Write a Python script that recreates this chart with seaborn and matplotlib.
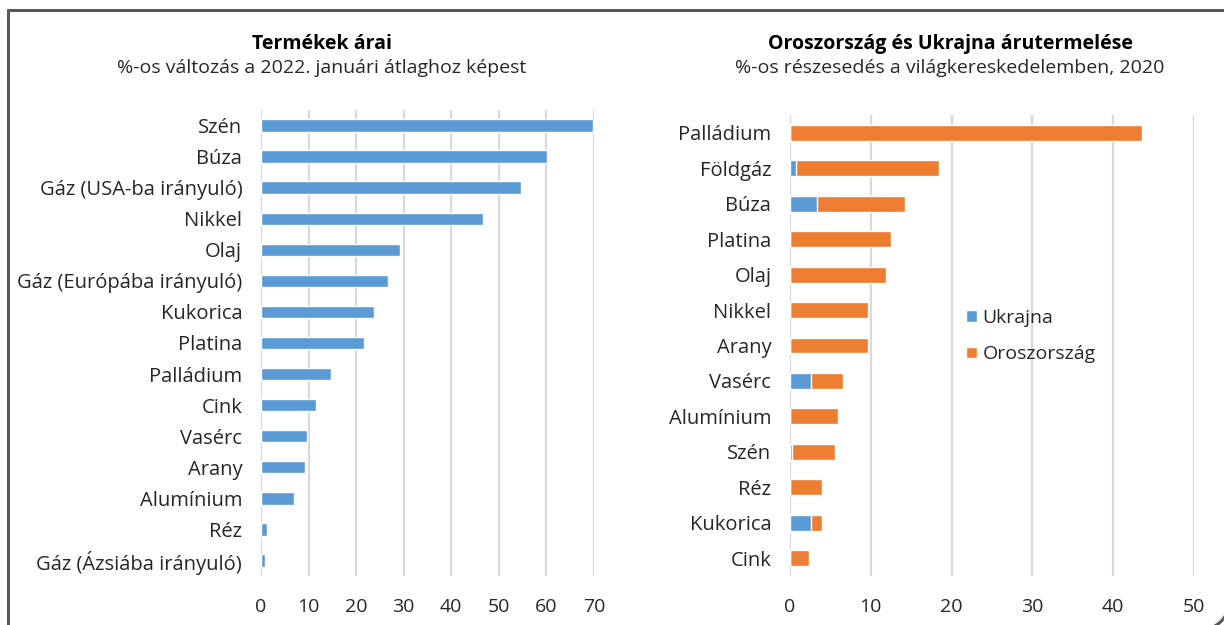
import numpy as np
import pandas as pd
import matplotlib
matplotlib.use("Agg")
import matplotlib.pyplot as plt
from matplotlib.patches import Patch, Arc
from matplotlib.lines import Line2D
from matplotlib.transforms import IdentityTransform
import seaborn as sns

# left panel: price change vs Jan 2022 average
products = ["Szén", "Búza", "Gáz (USA-ba irányuló)", "Nikkel", "Olaj",
            "Gáz (Európába irányuló)", "Kukorica", "Platina", "Palládium",
            "Cink", "Vasérc", "Arany", "Alumínium", "Réz", "Gáz (Ázsiába irányuló)"]
price_change = [69.8, 60.1, 54.6, 46.7, 29.3, 26.6, 23.7, 21.6, 14.8,
                11.5, 9.7, 9.2, 7.0, 1.3, 0.8]

# right panel: share of world trade, 2020
goods = ["Palládium", "Földgáz", "Búza", "Platina", "Olaj", "Nikkel", "Arany",
         "Vasérc", "Alumínium", "Szén", "Réz", "Kukorica", "Cink"]
ukraine = [0.0, 0.7, 3.3, 0.0, 0.0, 0.0, 0.0, 2.6, 0.0, 0.3, 0.0, 2.6, 0.0]
russia = [43.6, 17.8, 10.9, 12.5, 11.9, 9.6, 9.6, 4.0, 5.9, 5.3, 4.0, 1.4, 2.3]

left_ticks = [0, 10, 20, 30, 40, 50, 60, 70]
right_ticks = [0, 10, 20, 30, 40, 50]

blue = "#5B9BD5"
orange = "#ED7D31"
grid_c = "#D9D9D9"
txt_c = "#262626"
fs = 14

sns.set_theme(style="white")
plt.rcParams['font.family'] = ['Open Sans', 'DejaVu Sans']

W, H = 1224, 625
fig = plt.figure(figsize=(W / 100, H / 100), dpi=100)

def px_axes(x0, y0, x1, y1):
    return fig.add_axes([x0 / W, 1 - y1 / H, (x1 - x0) / W, (y1 - y0) / H])

ax1 = px_axes(261, 110, 594, 576)
ax2 = px_axes(790, 115, 1194, 576)

df1 = pd.DataFrame({"termek": products, "valtozas": price_change})
sns.barplot(data=df1, y="termek", x="valtozas", orient="h", color=blue,
            saturation=1, width=0.4, ax=ax1)
ax1.set_xlim(0, 70)
ax1.set_ylim(len(products) - 0.5, -0.5)

df2 = pd.DataFrame({"aru": goods, "ukr": ukraine, "rus": russia})
df2["ossz"] = df2["ukr"] + df2["rus"]
sns.barplot(data=df2, y="aru", x="ossz", orient="h", color=orange,
            saturation=1, width=0.45, ax=ax2)
sns.barplot(data=df2, y="aru", x="ukr", orient="h", color=blue,
            saturation=1, width=0.45, ax=ax2)
ax2.set_xlim(0, 50)
ax2.set_ylim(len(goods) - 0.5, -0.5)

for ax, ticks in [(ax1, left_ticks), (ax2, right_ticks)]:
    ax.set_xticks(ticks)
    ax.set_xlabel("")
    ax.set_ylabel("")
    ax.grid(axis="x", color=grid_c, linewidth=1.6)
    ax.grid(axis="y", visible=False)
    ax.set_axisbelow(True)
    for s in ax.spines.values():
        s.set_visible(False)
    ax.tick_params(axis="x", length=0, labelsize=fs, labelcolor=txt_c, pad=16)
    ax.tick_params(axis="y", length=0, labelsize=14.5, labelcolor=txt_c, pad=13.5)

handles = [Patch(facecolor=blue, label="Ukrajna"),
           Patch(facecolor=orange, label="Oroszország")]
ax2.legend(handles=handles, loc="upper left",
           bbox_to_anchor=((966 - 790) / 404, 1 - (309 - 115) / 461),
           frameon=False, fontsize=fs, handlelength=0.55, handleheight=0.55,
           handletextpad=0.3, labelspacing=0.95, labelcolor=txt_c,
           borderpad=0, borderaxespad=0)

fig.text(322 / W, 1 - 44 / H, "Termékek árai", ha="center", va="center",
         fontsize=fs, fontweight="bold", color="black")
fig.text(322 / W, 1 - 68 / H, "%-os változás a 2022. januári átlaghoz képest",
         ha="center", va="center", fontsize=fs, color=txt_c)
fig.text(950 / W, 1 - 44 / H, "Oroszország és Ukrajna árutermelése", ha="center",
         va="center", fontsize=fs, fontweight="bold", color="black")
fig.text(950 / W, 1 - 68 / H, "%-os részesedés a világkereskedelemben, 2020",
         ha="center", va="center", fontsize=fs, color=txt_c)

# outer frame (pixel coordinates, y from bottom)
frame_c = "#595959"
ident = IdentityTransform()
fig.lines.append(Line2D([8, 8], [-5, H - 10], transform=ident, color=frame_c, linewidth=2.2))
fig.lines.append(Line2D([8, W + 5], [H - 10, H - 10], transform=ident, color=frame_c, linewidth=2.2))
fig.patches.append(Arc((1200, 25), 60, 60, theta1=270, theta2=360, transform=ident,
                       color=frame_c, linewidth=2.2))

fig.savefig("out.png", dpi=100)
